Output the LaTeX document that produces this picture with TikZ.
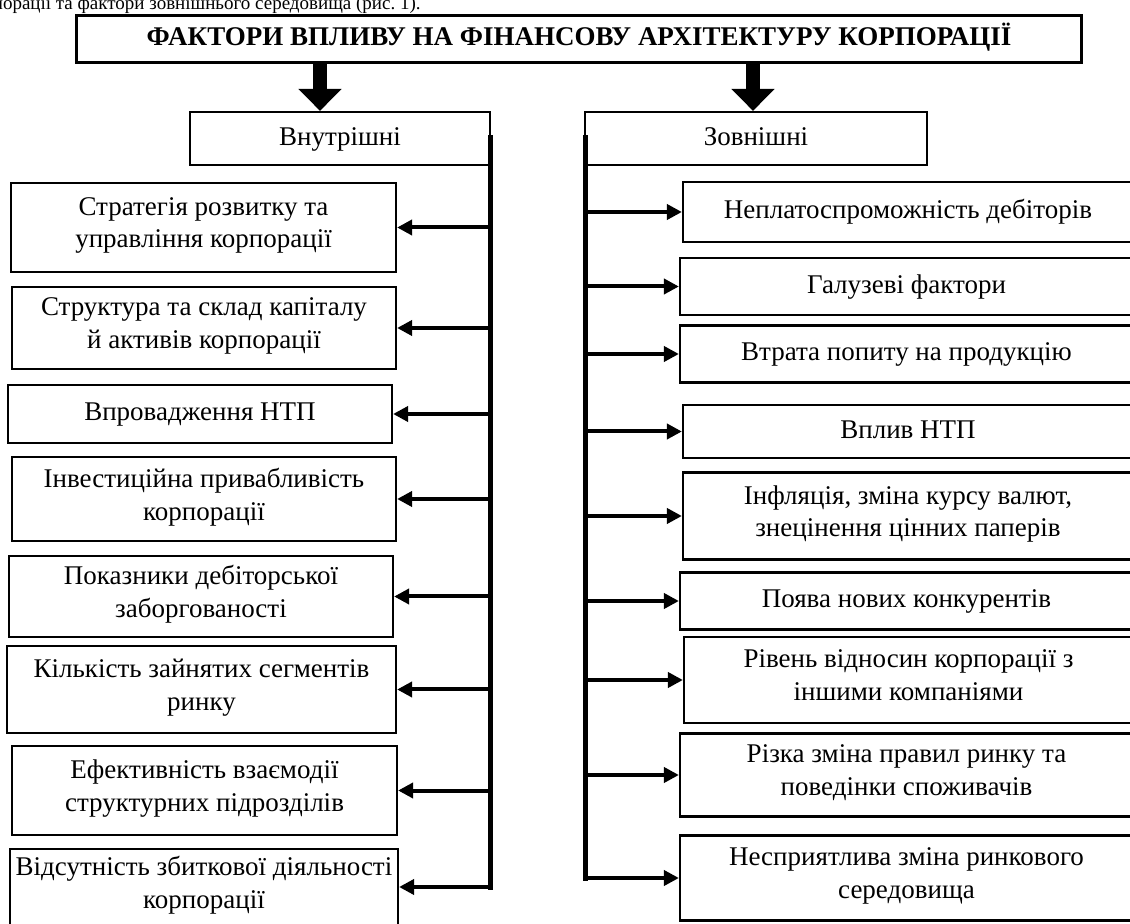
\documentclass[tikz,border=0pt]{standalone}
\usepackage{fontspec}
\setmainfont{Liberation Serif}
\usetikzlibrary{arrows.meta}

\begin{document}
\begin{tikzpicture}[x=0.5pt, y=-0.5pt,
  every node/.style={font=\fontsize{13.5}{16.3}\selectfont},
  box/.style={draw, line width=1.1pt, align=center, inner sep=0pt,
    execute at begin node=\strut, execute at end node=\strut},
  vline/.style={line width=2.5pt, line cap=rect},
  arr/.style={line width=2pt, -{Triangle[length=7.5pt,width=7.5pt]}},
  bigarr/.style={line width=7pt, -{Triangle[length=11pt,width=21pt]}}]

\useasboundingbox (0,0) rectangle (1130,924);

% line of the page above the scheme
\node[anchor=base east, inner sep=0pt, font=\fontsize{9.5}{12}\selectfont] (prev) at (421,10) {корпорації та фактори зовнішнього середовища (рис.~1).};

\node[box, minimum width=502.5pt, minimum height=23.5pt] (title) at (579,39) {\textbf{ФАКТОРИ ВПЛИВУ НА ФІНАНСОВУ АРХІТЕКТУРУ КОРПОРАЦІЇ}};

\node[box, minimum width=150pt, minimum height=26.5pt] (intern) at (340,138.5) {Внутрішні};
\node[box, minimum width=171pt, minimum height=26.5pt] (extern) at (756,138.5) {Зовнішні};

\coordinate (la) at (320,0);
\coordinate (ra) at (753,0);
\draw[bigarr] (title.south -| la) -- (intern.north -| la);
\draw[bigarr] (title.south -| ra) -- (extern.north -| ra);

% internal factors
\node[box, minimum width=192.5pt, minimum height=44.5pt] (l1) at (203.5,227.5) {Стратегія розвитку та\\управління корпорації};
\node[box, minimum width=192pt, minimum height=41pt] (l2) at (204,328) {Структура та склад капіталу\\й активів корпорації};
\node[box, minimum width=192pt, minimum height=29pt] (l3) at (200,414) {Впровадження НТП};
\node[box, minimum width=192pt, minimum height=42pt] (l4) at (204,499) {Інвестиційна привабливість\\корпорації};
\node[box, minimum width=192pt, minimum height=40.5pt] (l5) at (201,596.5) {Показники дебіторської\\заборгованості};
\node[box, minimum width=194.5pt, minimum height=43.5pt] (l6) at (201.5,689.5) {Кількість зайнятих сегментів\\ринку};
\node[box, minimum width=192.5pt, minimum height=44.5pt] (l7) at (204.5,790.5) {Ефективність взаємодії\\структурних підрозділів};
\node[box, minimum width=194pt, minimum height=38pt] (l8) at (204,887) {Відсутність збиткової діяльності\\корпорації};

% external factors
\node[box, minimum width=225pt, minimum height=30pt] (r1) at (908,212) {Неплатоспроможність дебіторів};
\node[box, minimum width=226.5pt, minimum height=28.5pt] (r2) at (906.5,286.5) {Галузеві фактори};
\node[box, minimum width=226.5pt, minimum height=28.5pt] (r3) at (906.5,354) {Втрата попиту на продукцію};
\node[box, minimum width=225pt, minimum height=26.5pt] (r4) at (908,431.5) {Вплив НТП};
\node[box, minimum width=225pt, minimum height=43.5pt] (r5) at (908,516) {Інфляція, зміна курсу валют,\\знецінення цінних паперів};
\node[box, minimum width=226.5pt, minimum height=28.5pt] (r6) at (906.5,601) {Поява нових конкурентів};
\node[box, minimum width=224.5pt, minimum height=43pt] (r7) at (908.5,680) {Рівень відносин корпорації з\\іншими компаніями};
\node[box, minimum width=226.5pt, minimum height=41.5pt] (r8) at (906.5,775) {Різка зміна правил ринку та\\поведінки споживачів};
\node[box, minimum width=226.5pt, minimum height=42.5pt] (r9) at (906.5,878) {Несприятлива зміна ринкового\\середовища};

\coordinate (lv) at (490,138);
\coordinate (rv) at (585,138);

\draw[vline] (lv) -- (lv |- l8.east);
\draw[vline] (rv) -- (rv |- r9.west);

\foreach \n in {1,...,8}
  \draw[arr] (lv |- l\n.east) -- (l\n.east);
\foreach \n in {1,...,9}
  \draw[arr] (rv |- r\n.west) -- (r\n.west);

\end{tikzpicture}
\end{document}
